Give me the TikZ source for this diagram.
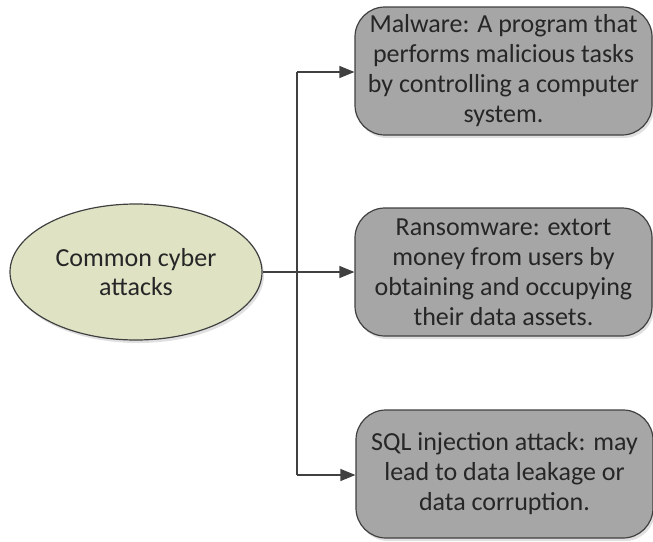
\documentclass[tikz,border=0pt]{standalone}
\usepackage{fontspec}
\setmainfont{Carlito}
\usetikzlibrary{arrows.meta,shadows,shapes.geometric}
\definecolor{boxgray}{HTML}{A6A6A6}
\definecolor{ellfill}{HTML}{DFE3C4}
\definecolor{edge}{HTML}{404040}
\definecolor{txt}{HTML}{262626}
\tikzset{
  attackbox/.style={draw=edge, line width=1.2pt, fill=boxgray, rounded corners=30pt,
    minimum width=297pt, minimum height=128pt, align=center, text=txt,
    font=\fontsize{26}{30}\selectfont, inner sep=1pt,
    drop shadow={shadow xshift=2pt, shadow yshift=-3pt, fill=black, opacity=0.12}},
  rootell/.style={draw=edge, line width=1.2pt, fill=ellfill, ellipse, minimum width=252pt,
    minimum height=136pt, align=center, text=txt, font=\fontsize{26}{29}\selectfont,
    inner sep=1pt,
    drop shadow={shadow xshift=2pt, shadow yshift=-3pt, fill=black, opacity=0.12}},
  link/.style={draw=edge, line width=1.2pt},
  arrowlink/.style={link, -{Triangle[length=15pt,width=12pt]}}
}
\begin{document}
\begin{tikzpicture}[x=1pt,y=-1pt]
\useasboundingbox (0,0) rectangle (653,541);
\node[rootell] (root) at (136,272) {Common cyber\\attacks};
\node[attackbox] (b1) at (503.5,71) {Malware: A program that\\performs malicious tasks\\by controlling a computer\\system.};
\node[attackbox] (b2) at (503.5,272) {Ransomware: extort\\money from users by\\obtaining and occupying\\their data assets.};
\node[attackbox] (b3) at (504.5,474) {SQL injection attack: may\\lead to data leakage or\\data corruption.};
\coordinate (j) at (297,272);
\coordinate (jt) at (297,72);
\coordinate (jb) at (297,475);
\draw[link] (root.east) -- (j);
\draw[link] (jt) -- (jb);
\draw[arrowlink] (jt) -- (b1.west |- jt);
\draw[arrowlink] (j) -- (b2.west);
\draw[arrowlink] (jb) -- (b3.west |- jb);
\end{tikzpicture}
\end{document}
